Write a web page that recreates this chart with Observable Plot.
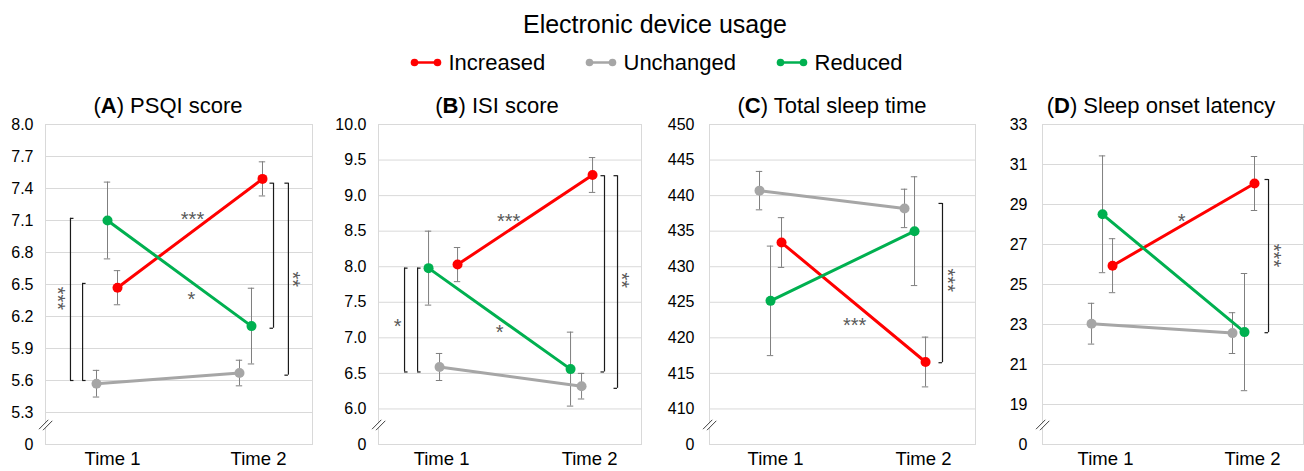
<!DOCTYPE html>
<html>
<head>
<meta charset="utf-8">
<script src="https://cdn.jsdelivr.net/npm/d3@7"></script>
<script src="https://cdn.jsdelivr.net/npm/@observablehq/plot@0.6"></script>
<style>
  html, body { margin: 0; padding: 0; background: #fff; }
  #root { position: relative; width: 1304px; height: 471px; overflow: hidden; font-family: "Liberation Sans", Arial, sans-serif; }
  .panel { position: absolute; top: 94px; }
  #overlay { position: absolute; left: 0; top: 0; pointer-events: none; }
  .rot text { opacity: 0.99; }
</style>
</head>
<body>
<div id="root"></div>
<script>
// ---------------- DATA ----------------
const chartTitle = "Electronic device usage";
const seriesNames = ["Increased", "Unchanged", "Reduced"];
const seriesColors = ["#ff0000", "#a6a6a6", "#00b050"];
const timeValues = [1, 2];
const timeLabels = ["Time 1", "Time 2"];
const panelLetters = ["A", "B", "C", "D"];
const panelNames = ["PSQI score", "ISI score", "Total sleep time", "Sleep onset latency"];

// means / error half-widths, order: Increased T1,T2, Unchanged T1,T2, Reduced T1,T2
const psqiMean = [6.47, 7.49, 5.57, 5.67, 7.10, 6.11];
const psqiErr  = [0.16, 0.16, 0.125, 0.12, 0.36, 0.355];
const isiMean  = [8.03, 9.29, 6.59, 6.32, 7.98, 6.56];
const isiErr   = [0.24, 0.245, 0.19, 0.18, 0.52, 0.52];
const tstMean  = [433.4, 416.6, 440.7, 438.2, 425.2, 435.0];
const tstErr   = [3.5, 3.5, 2.7, 2.7, 7.7, 7.65];
const solMean  = [25.94, 30.05, 23.04, 22.57, 28.51, 22.62];
const solErr   = [1.35, 1.35, 1.02, 1.02, 2.92, 2.93];

// y-axis tick labels (below the break, the axis shows "0")
const psqiTicks = [5.3, 5.6, 5.9, 6.2, 6.5, 6.8, 7.1, 7.4, 7.7, 8.0];
const isiTicks  = [6.0, 6.5, 7.0, 7.5, 8.0, 8.5, 9.0, 9.5, 10.0];
const tstTicks  = [410, 415, 420, 425, 430, 435, 440, 445, 450];
const solTicks  = [19, 21, 23, 25, 27, 29, 31, 33];
const breakLabel = "0";

// significance brackets: [from, to] values and their labels
const psqiBrackets = [[7.12, 5.60], [6.51, 5.60], [7.45, 6.09], [7.45, 5.65]];
const psqiStars = ["***", "*", "***", "**"];
const isiBrackets = [[7.98, 6.52], [7.98, 6.52], [9.28, 6.52], [9.28, 6.29]];
const isiStars = ["***", "*", "*", "**"];
const tstBrackets = [[438.9, 416.5]];
const tstStars = ["***", "***"];
const solBrackets = [[30.25, 22.59]];
const solStars = ["*", "***"];

// ---------------- LAYOUT / STYLE ----------------
const FONT = "'Liberation Sans', Arial, sans-serif";
const panelsCfg = [
  { mean: psqiMean, err: psqiErr, ticks: psqiTicks, brackets: psqiBrackets, stars: psqiStars,
    left: 0, width: 313, marginLeft: 45, pad: 12, xDomain: [0.541, 2.370], step: 0.3, fmt: d3.format(".1f"),
    dodge: [[5, 4], [-16, -19], [-5, -7]], titleX: 168,
    bracketPos: [{x: 0.712, dir: 1}, {x: 0.795, dir: 1}, {x: 2.103, dir: -1}, {x: 2.205, dir: -1}],
    starPos: [{x: 1.548, y: 7.15, r: 0}, {x: 1.541, y: 6.40, r: 0}, {x: 0.655, y: 6.37, r: 90}, {x: 2.262, y: 6.55, r: 90}] },
  { mean: isiMean, err: isiErr, ticks: isiTicks, brackets: isiBrackets, stars: isiStars,
    left: 325, width: 317, marginLeft: 53, pad: 12, xDomain: [0.574, 2.351], step: 0.5, fmt: d3.format(".1f"),
    dodge: [[16, 3], [-2, -8], [-13, -19]], titleX: 497,
    bracketPos: [{x: 0.75, dir: 1}, {x: 0.838, dir: 1}, {x: 2.101, dir: -1}, {x: 2.189, dir: -1}],
    starPos: [{x: 1.453, y: 8.70, r: 0}, {x: 1.392, y: 7.14, r: 0}, {x: 0.703, y: 7.22, r: 0}, {x: 2.245, y: 7.81, r: 90}] },
  { mean: tstMean, err: tstErr, ticks: tstTicks, brackets: tstBrackets, stars: tstStars,
    left: 650, width: 326, marginLeft: 59, pad: 15, xDomain: [0.554, 2.351], step: 5, fmt: d3.format("d"),
    dodge: [[6, 2], [-16, -19], [-5, -9]], titleX: 832,
    bracketPos: [{x: 2.128, dir: -1}],
    starPos: [{x: 1.534, y: 422.4, r: 0}, {x: 2.19, y: 428.1, r: 90}] },
  { mean: solMean, err: solErr, ticks: solTicks, brackets: solBrackets, stars: solStars,
    left: 980, width: 324, marginLeft: 62, pad: 15, xDomain: [0.571, 2.347], step: 2, fmt: d3.format("d"),
    dodge: [[7, 2], [-14, -20], [-3, -8]], titleX: 1161,
    bracketPos: [{x: 2.109, dir: -1}],
    starPos: [{x: 1.517, y: 28.36, r: 0}, {x: 2.172, y: 26.45, r: 90}] }
];
const H = 377, MT = 30, MB = 27, MR = 1;

const root = document.getElementById("root");

panelsCfg.forEach((cfg, pi) => {
  const lo = cfg.ticks[0] - cfg.step;
  const hi = cfg.ticks[cfg.ticks.length - 1];
  const frameW = cfg.width - cfg.marginLeft - MR;
  const ppu = frameW / (cfg.xDomain[1] - cfg.xDomain[0]);   // px per x unit

  // build rows from arrays
  const rows = [];
  seriesNames.forEach((s, si) => {
    timeValues.forEach((t, ti) => {
      const k = si * 2 + ti;
      rows.push({ series: s, color: seriesColors[si], time: t,
        x: t + cfg.dodge[si][ti] / ppu,
        mean: cfg.mean[k], lo: cfg.mean[k] - cfg.err[k], hi: cfg.mean[k] + cfg.err[k] });
    });
  });
  const capHalf = 3.2 / ppu;
  const caps = rows.flatMap(d => [{x1: d.x - capHalf, x2: d.x + capHalf, y: d.lo}, {x1: d.x - capHalf, x2: d.x + capHalf, y: d.hi}]);

  const brackets = cfg.brackets.map((b, i) => ({ x: cfg.bracketPos[i].x, y1: b[0], y2: b[1], dir: cfg.bracketPos[i].dir }));
  const bracketCaps = brackets.flatMap(b => [
    {x1: b.x, x2: b.x + b.dir * 3.5 / ppu, y: b.y1},
    {x1: b.x, x2: b.x + b.dir * 3.5 / ppu, y: b.y2}]);
  const stars = cfg.stars.map((s, i) => ({ label: s, ...cfg.starPos[i] }));

  const tickVals = [lo, ...cfg.ticks];

  const breakMark = (index, scales, values, dims) => {
    const g = d3.create("svg:g");
    const cx = dims.marginLeft, cy = dims.height - dims.marginBottom - 19.5;
    g.append("polygon")
      .attr("points", `${cx - 5.5},${cy + 5} ${cx + 4},${cy - 5} ${cx + 7.5},${cy - 4.5} ${cx - 2},${cy + 5.5}`)
      .attr("fill", "#fff");
    [[-6, 0], [-2, 1]].forEach(([ox, oy]) => {
      g.append("line")
        .attr("x1", cx + ox).attr("y1", cy + 4.7 + oy)
        .attr("x2", cx + ox + 9.3).attr("y2", cy - 4.7 + oy)
        .attr("stroke", "#404040").attr("stroke-width", 1);
    });
    return g.node();
  };

  const chart = Plot.plot({
    width: cfg.width, height: H,
    marginLeft: cfg.marginLeft, marginRight: MR, marginTop: MT, marginBottom: MB,
    style: { fontFamily: FONT, background: "transparent", color: "#000", overflow: "visible" },
    x: { domain: cfg.xDomain, axis: null },
    y: { domain: [lo, hi], axis: null },
    marks: [
      Plot.ruleY(cfg.ticks, { stroke: "#d9d9d9", strokeWidth: 1 }),
      Plot.frame({ stroke: "#d9d9d9", strokeWidth: 1 }),
      Plot.axisY(tickVals, { tickSize: 0, tickPadding: cfg.pad, fontSize: 16, fill: "#000",
        tickFormat: v => v === lo ? breakLabel : cfg.fmt(v) }),
      Plot.axisX(timeValues, { tickSize: 0, tickPadding: 7, fontSize: 18.5, fill: "#000",
        tickFormat: v => timeLabels[timeValues.indexOf(v)] }),
      breakMark,
      // brackets
      Plot.ruleX(brackets, { x: "x", y1: "y1", y2: "y2", stroke: "#1a1a1a", strokeWidth: 1.2 }),
      Plot.ruleY(bracketCaps, { y: "y", x1: "x1", x2: "x2", stroke: "#1a1a1a", strokeWidth: 1.2 }),
      // error bars
      Plot.ruleX(rows, { x: "x", y1: "lo", y2: "hi", stroke: "#7f7f7f", strokeWidth: 1 }),
      Plot.ruleY(caps, { y: "y", x1: "x1", x2: "x2", stroke: "#7f7f7f", strokeWidth: 1 }),
      // lines and dots
      Plot.line(rows, { x: "x", y: "mean", z: "series", stroke: "color", strokeWidth: 3 }),
      Plot.dot(rows, { x: "x", y: "mean", fill: "color", r: 5, stroke: "none" }),
      // significance stars
      Plot.text(stars.filter(s => !s.r), { x: "x", y: "y", text: "label", fontSize: 20, fill: "#595959", dy: 4.5 }),
      Plot.text(stars.filter(s => s.r), { x: "x", y: "y", text: "label", fontSize: 20, fill: "#595959", rotate: 90, dx: -4.5, className: "rot" })
    ]
  });
  chart.classList.add("panel");
  chart.style.left = cfg.left + "px";
  chart.style.position = "absolute";
  chart.style.top = "94px";
  root.appendChild(chart);
});

// ---------------- overlay: title, legend, panel titles ----------------
const svg = d3.select(root).append("svg").attr("id", "overlay")
  .attr("width", 1304).attr("height", 471)
  .style("font-family", FONT);

svg.append("text").attr("x", 655).attr("y", 32.5).attr("text-anchor", "middle")
  .attr("font-size", 25).attr("fill", "#000").text(chartTitle);

const legendX = [412, 587, 778];
seriesNames.forEach((s, i) => {
  const g = svg.append("g").attr("transform", `translate(${legendX[i]},62.5)`);
  g.append("line").attr("x1", 2).attr("x2", 26).attr("y1", 0).attr("y2", 0)
    .attr("stroke", seriesColors[i]).attr("stroke-width", 2.5);
  g.append("circle").attr("cx", 2.5).attr("cy", 0).attr("r", 3.8).attr("fill", seriesColors[i]);
  g.append("circle").attr("cx", 25.5).attr("cy", 0).attr("r", 3.8).attr("fill", seriesColors[i]);
  g.append("text").attr("x", 36.5).attr("y", 7.8).attr("font-size", 22).attr("fill", "#000").text(s);
});

panelsCfg.forEach((cfg, i) => {
  const t = svg.append("text").attr("x", cfg.titleX).attr("y", 112.5).attr("text-anchor", "middle")
    .attr("font-size", 22).attr("fill", "#000");
  t.append("tspan").text("(");
  t.append("tspan").attr("font-weight", "bold").text(panelLetters[i]);
  t.append("tspan").text(") " + panelNames[i]);
});
</script>
</body>
</html>
